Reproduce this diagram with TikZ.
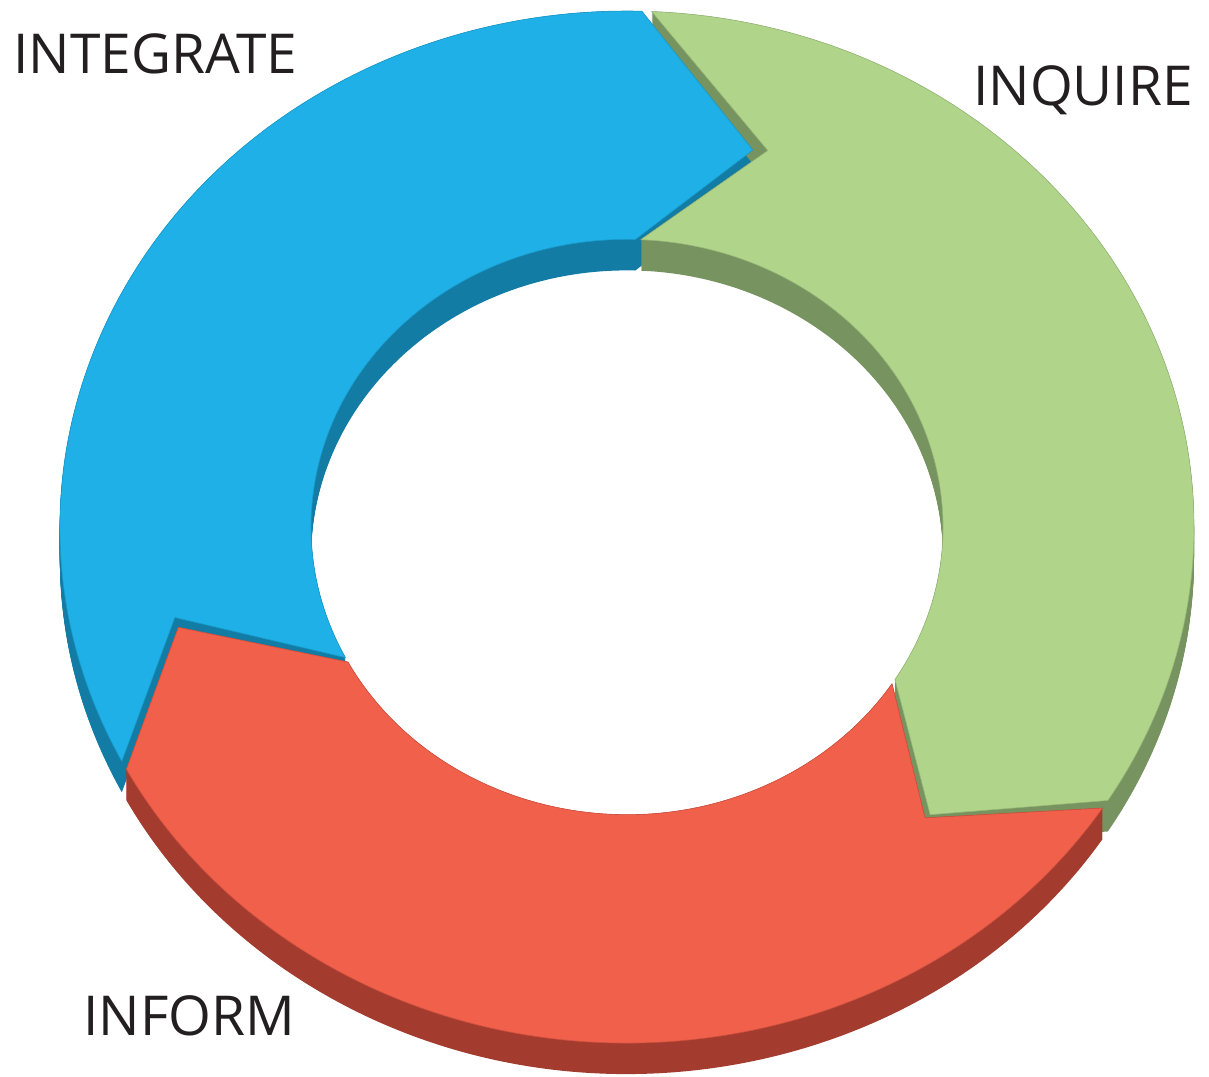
\documentclass[tikz,border=0pt]{standalone}
\usepackage{fontspec}
\setmainfont{Open Sans}
\definecolor{blueTop}{RGB}{30,176,230}
\definecolor{blueSide}{RGB}{19,124,164}
\definecolor{greenTop}{RGB}{176,213,138}
\definecolor{greenSide}{RGB}{119,147,95}
\definecolor{redTop}{RGB}{240,96,75}
\definecolor{redSide}{RGB}{163,60,47}
\definecolor{labelInk}{RGB}{35,31,32}
% #1 tail angle, #2 head-base angle, #3 tip angle, #4/#5 tip radii, #6 notch angle, #7/#8 notch radii
\newcommand\ringseg[8]{(#1:567pt and 516pt) arc[start angle=#1,end angle=#2,x radius=567pt,y radius=516pt] -- (#3:#4pt and #5pt) -- (#2:316pt and 287.6pt) arc[start angle=#2,end angle=#1,x radius=316pt,y radius=287.6pt] -- (#6:#7pt and #8pt) -- cycle}
\newcommand\blueseg{\ringseg{207}{88.5}{73.1}{433}{394.0}{192.4}{463}{421.3}}
\newcommand\greenseg{\ringseg{87.5}{-32}{-46.2}{438}{398.6}{71.2}{437}{397.7}}
\newcommand\redseg{\ringseg{-33}{-152}{-166.2}{462}{420.4}{-47.0}{437}{397.7}}
\tikzset{
  toplabel/.style={font=\fontsize{55}{60}\selectfont, text=labelInk, inner sep=0pt, anchor=base west},
  topface/.style={fill=#1Top, draw=#1Side!45!#1Top, line width=0.6pt, line join=round},
  sideface/.style={fill=#1Side}
}
\begin{document}
\begin{tikzpicture}
\useasboundingbox (0pt,0pt) rectangle (1209pt,-1076pt);
\begin{scope}[shift={(627pt,-527pt)}]
  % extruded sides (painter's order: blue, green, red)
  \foreach \d in {0,1,...,31}{
    \fill[sideface=blue, yshift=-\d pt] \blueseg;
  }
  \foreach \d in {0,1,...,31}{
    \fill[sideface=green, yshift=-\d pt] \greenseg;
  }
  \foreach \d in {0,1,...,31}{
    \fill[sideface=red, yshift=-\d pt] \redseg;
  }
  % top faces
  \path[topface=blue] \blueseg;
  \path[topface=green] \greenseg;
  \path[topface=red] \redseg;
\end{scope}
\node[toplabel] (integrate) at (13pt,-73pt) {INTEGRATE};
\node[toplabel] (inquire) at (973pt,-105pt) {INQUIRE};
\node[toplabel] (inform) at (83pt,-1035pt) {INFORM};
\end{tikzpicture}
\end{document}
